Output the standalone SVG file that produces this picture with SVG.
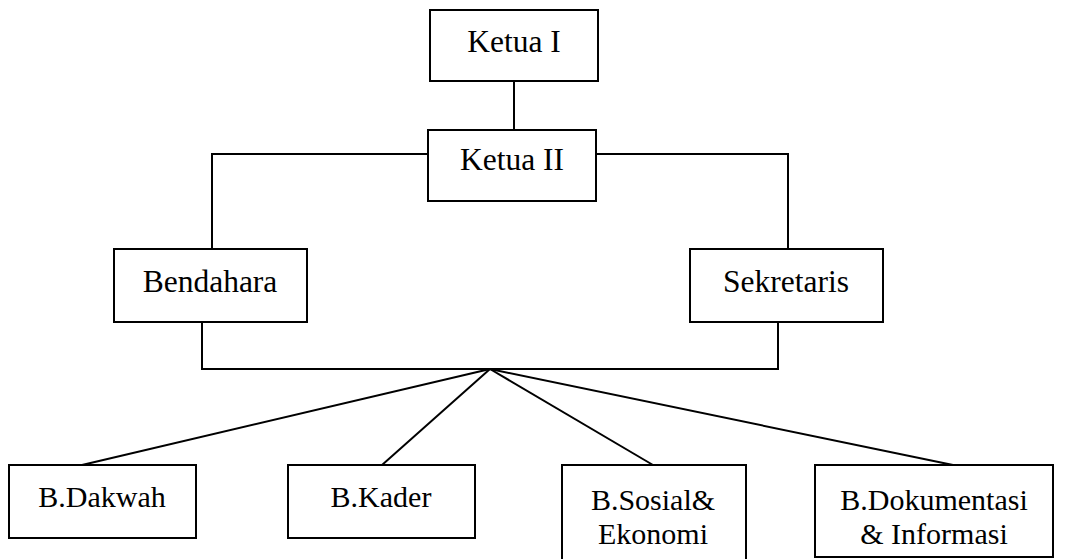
<svg xmlns="http://www.w3.org/2000/svg" width="1084" height="559" viewBox="0 0 1084 559">
<style>
.box{fill:#fff;stroke:#000;stroke-width:2}
.ln{fill:none;stroke:#000;stroke-width:2}
text{font-family:"Liberation Serif","Times New Roman",serif;font-size:31.5px;fill:#000;text-anchor:middle}
text.b{font-size:30px}
</style>
<rect width="1084" height="559" fill="#fff"/>
<g id="connectors">
<line class="ln" x1="514" y1="81" x2="514" y2="130"/>
<polyline class="ln" points="428,154 212,154 212,249"/>
<polyline class="ln" points="596,154 788,154 788,249"/>
<polyline class="ln" points="202,322 202,369 778,369 778,322"/>
<line class="ln" x1="490" y1="369" x2="82" y2="465"/>
<line class="ln" x1="490" y1="369" x2="382" y2="465"/>
<line class="ln" x1="490" y1="369" x2="653" y2="465"/>
<line class="ln" x1="490" y1="369" x2="953" y2="465"/>
</g>
<g id="ketua1"><rect class="box" x="430" y="10" width="168" height="71"/><text x="514" y="52">Ketua I</text></g>
<g id="ketua2"><rect class="box" x="428" y="130" width="168" height="71"/><text x="512" y="170">Ketua II</text></g>
<g id="bendahara"><rect class="box" x="114" y="249" width="193" height="73"/><text x="210" y="292">Bendahara</text></g>
<g id="sekretaris"><rect class="box" x="690" y="249" width="193" height="73"/><text x="786" y="292">Sekretaris</text></g>
<g id="dakwah"><rect class="box" x="9" y="465" width="187" height="73"/><text class="b" x="102" y="507">B.Dakwah</text></g>
<g id="kader"><rect class="box" x="288" y="465" width="187" height="73"/><text class="b" x="381" y="507">B.Kader</text></g>
<g id="sosial"><rect class="box" x="562" y="465" width="184" height="100"/><text class="b" x="653" y="510">B.Sosial&amp;<tspan x="653" y="544">Ekonomi</tspan></text></g>
<g id="dokumentasi"><rect class="box" x="815" y="465" width="238" height="92"/><text class="b" x="934" y="510">B.Dokumentasi<tspan x="934" y="544">&amp; Informasi</tspan></text></g>
</svg>
